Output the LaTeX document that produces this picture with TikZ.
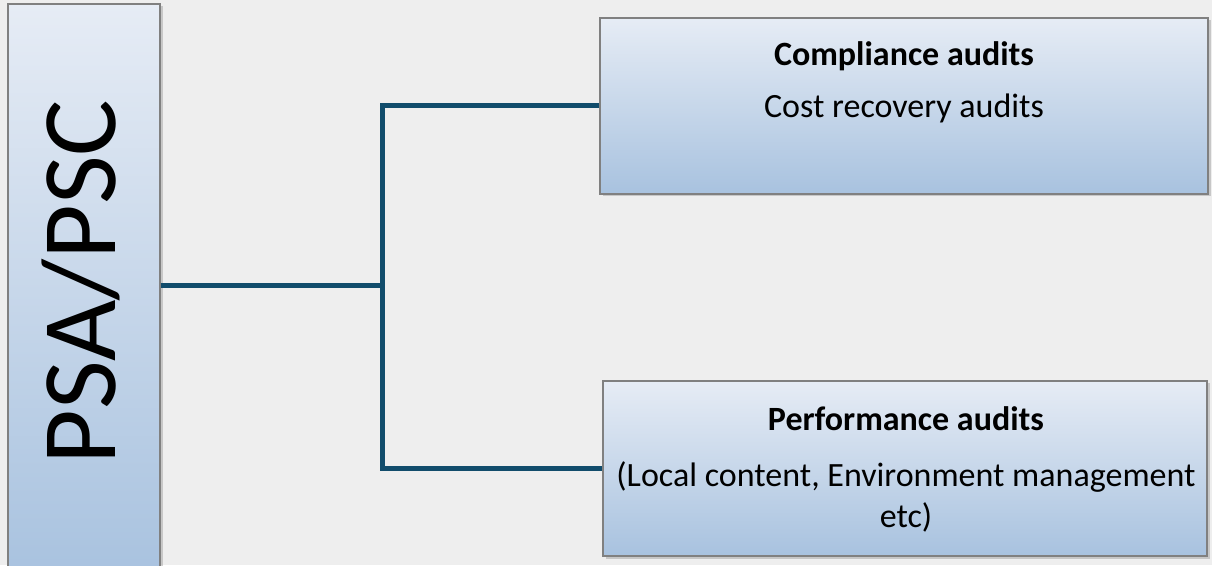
\documentclass[tikz,border=0pt]{standalone}
\usepackage{fontspec}
\setmainfont{Carlito}
\usetikzlibrary{shadows}
\definecolor{paper}{RGB}{238,238,238}
\definecolor{boxtop}{RGB}{230,236,245}
\definecolor{boxbottom}{RGB}{168,194,223}
\definecolor{boxedge}{RGB}{128,128,128}
\definecolor{linkblue}{RGB}{17,76,107}
\begin{document}
\begin{tikzpicture}[x=1pt,y=1pt,
  panel/.style={draw=boxedge, line width=1.2pt, top color=boxtop, bottom color=boxbottom,
    inner sep=0pt, drop shadow={shadow xshift=2.5pt, shadow yshift=-2.5pt, opacity=0.35}},
  link/.style={draw=linkblue, line width=5pt},
  head/.style={font=\fontsize{34}{40}\selectfont\bfseries, anchor=base, inner sep=0pt},
  body/.style={font=\fontsize{34}{40}\selectfont, anchor=base, inner sep=0pt}]
\fill[paper] (0,0) rectangle (1212,565);
\useasboundingbox (0,0) rectangle (1212,565);
\begin{scope}
  \clip (0,0) rectangle (1212,565);
  % tall title panel on the left, running past the lower edge
  \node[panel, minimum width=152pt, minimum height=575pt] (psa) at (84,273.5) {};
  \node[font=\fontsize{106}{120}\selectfont, rotate=90, anchor=base, inner sep=0pt]
    (psalabel) at (115,283) {PSA/PSC};

  % upper branch
  \node[panel, minimum width=608pt, minimum height=176pt] (compl) at (904,459) {};
  \node[head] (complhead) at (904,499) {Compliance audits};
  \node[body] (complbody) at (904,447) {Cost recovery audits};

  % lower branch
  \node[panel, minimum width=604pt, minimum height=175pt] (perf) at (905,96.5) {};
  \node[head] (perfhead) at (906,134) {Performance audits};
  \node[body] (perfbodya) at (906,79) {(Local content, Environment management};
  \node[body] (perfbodyb) at (906,38) {etc)};

  % tree connectors
  \coordinate (hub) at (382,279);
  \draw[link] (psa.east |- hub) -- (hub);
  \draw[link] (compl.west) -| (hub) |- (perf.west);
\end{scope}
\end{tikzpicture}
\end{document}
